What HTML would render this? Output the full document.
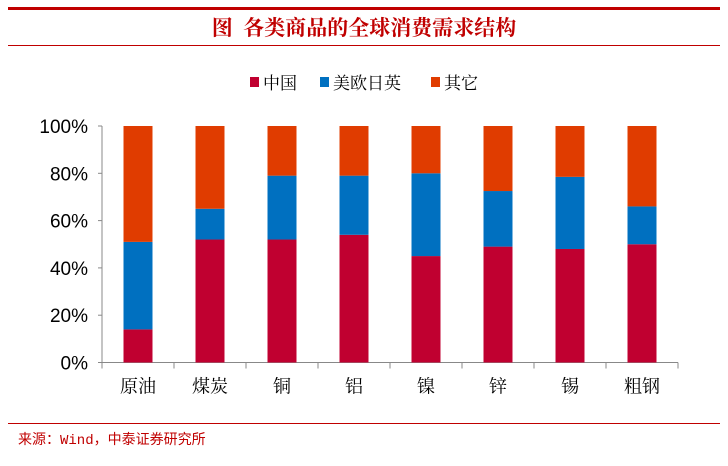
<!DOCTYPE html>
<html><head><meta charset="utf-8"><style>
body{margin:0;background:#fff;width:728px;height:461px;overflow:hidden;font-family:"Liberation Sans","Noto Sans CJK SC",sans-serif}
</style></head><body>
<svg width="728" height="461" xmlns="http://www.w3.org/2000/svg">
<rect x="8" y="7" width="712" height="3" fill="#C00000"/>
<text x="364" y="35" text-anchor="middle" font-size="21" font-weight="bold" fill="#C00000" font-family="'Liberation Serif','Noto Serif CJK SC',serif" style="white-space:pre">图  各类商品的全球消费需求结构</text>
<rect x="8" y="45" width="712" height="1" fill="#C00000"/>
<g id="legend" font-size="17" fill="#000" font-family="'Liberation Serif','Noto Serif CJK SC',serif"></g>
<g id="axes"></g>
<g id="bars"></g>
<rect x="8" y="423" width="712" height="1" fill="#C00000"/>
<text x="18" y="444" font-size="14" fill="#C00000" font-family="'Liberation Mono','Noto Sans CJK SC',monospace">来源：Wind，中泰证券研究所</text>
</svg>
<script>
const categories=["原油","煤炭","铜","铝","镍","锌","锡","粗钢"];
const china=[14,52,52,54,45,49,48,50];
const euJpUk=[37,13,27,25,35,23.5,30.5,16];
const other=[49,35,21,21,20,27.5,21.5,34];
const seriesNames=["中国","美欧日英","其它"];
const colors=["#C00030","#0070C0","#E03C00"];
const yTicks=[0,20,40,60,80,100];
const NS="http://www.w3.org/2000/svg";
const x0=102,x1=678,y0=362.5,y1=126;
const band=(x1-x0)/categories.length;
const xc=i=>x0+band*(i+0.5);
const y=v=>y0-(v/100)*(y0-y1);
function mk(t,a,p){const e=document.createElementNS(NS,t);for(const k in a)e.setAttribute(k,a[k]);p.appendChild(e);return e;}
const ax=document.getElementById('axes');
let l=mk('line',{x1:x0,y1:y1,x2:x0,y2:y0,stroke:'#888'},ax);


l=mk('line',{x1:x0,y1:y0,x2:x1,y2:y0,stroke:'#888'},ax);


yTicks.forEach(v=>{
 mk('line',{x1:x0-4,y1:y(v),x2:x0,y2:y(v),stroke:'#888'},ax);
 const t=mk('text',{x:x0-14,y:y(v)+7,'text-anchor':'end','font-size':19,fill:'#000'},ax);
 t.textContent=v+'%';
 
 
});
for(let i=0;i<=categories.length;i++){mk('line',{x1:x0+band*i,y1:y0,x2:x0+band*i,y2:y0+6,stroke:'#888'},ax);}
categories.forEach((c,i)=>{
 const t=mk('text',{x:xc(i),y:y0+30,'text-anchor':'middle','font-size':18,fill:'#000','font-family':"'Liberation Serif','Noto Serif CJK SC',serif"},ax);
 t.textContent=c;
 
 
});
const bg=document.getElementById('bars');
const series=[china,euJpUk,other];
categories.forEach((c,i)=>{
 let base=0;
 series.forEach((s,k)=>{
  const r=mk('rect',{x:xc(i)-14.5,y:y(base+s[i]),width:29,height:y(base)-y(base+s[i]),fill:colors[k]},bg);
  
  
  base+=s[i];
 });
});
const lg=document.getElementById('legend');
const lx=[250,320,431];
seriesNames.forEach((n,k)=>{
 const r=mk('rect',{x:lx[k],y:77,width:9,height:10,fill:colors[k]},lg);
 
 
 const t=mk('text',{x:lx[k]+13,y:89},lg);
 t.textContent=n;
 
 
});
</script>
</body></html>
